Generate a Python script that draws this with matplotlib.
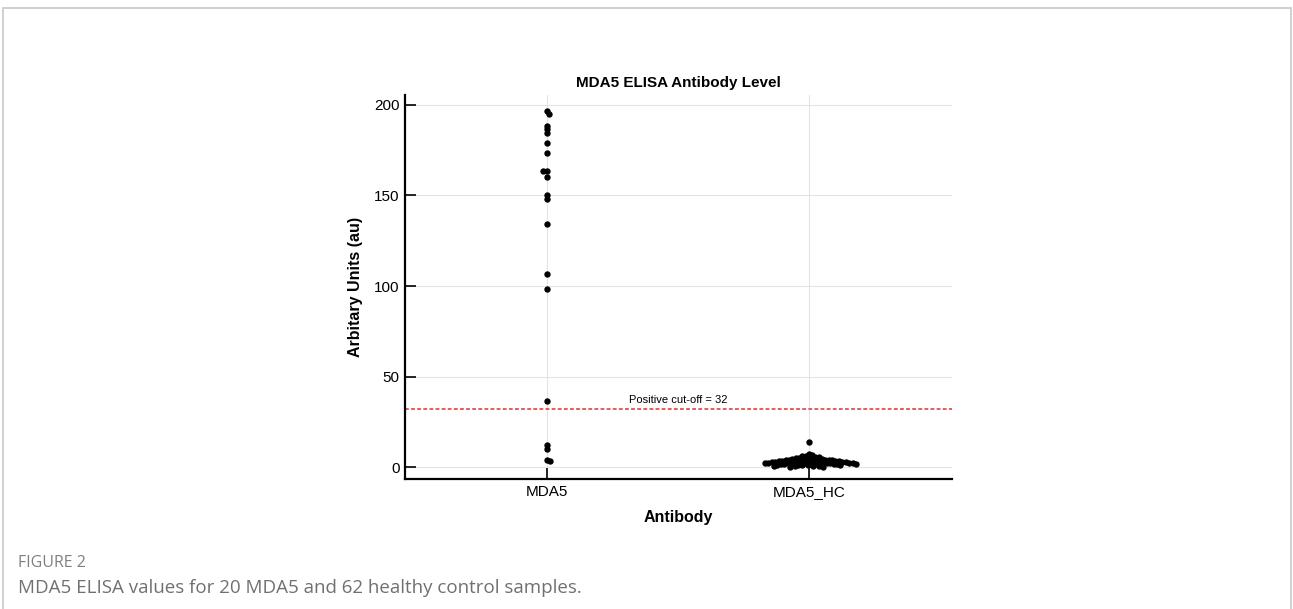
import matplotlib
matplotlib.use("Agg")
from matplotlib import pyplot as plt
from matplotlib.patches import Rectangle
import numpy as np

# values (arbitrary units)
categories = ["MDA5", "MDA5_HC"]
mda5_values = [196.5, 195.0, 188.5, 186.5, 184.5, 179.0, 173.5, 163.5, 163.5,
               160.0, 150.0, 148.0, 134.0, 106.5, 98.5, 36.5, 12.0, 10.0, 3.5, 4.0]
hc_values = [14.0, 7.0, 6.5, 6.0, 6.0, 5.5, 5.5, 5.0, 5.0, 5.0, 4.5, 4.5, 4.5,
             4.0, 4.0, 4.0, 4.0, 3.8, 3.5, 3.5, 3.5, 3.5, 3.2, 3.0, 3.0, 3.0,
             3.0, 3.0, 2.8, 2.5, 2.5, 2.5, 2.5, 2.5, 2.2, 2.0, 2.0, 2.0, 2.0,
             2.0, 1.8, 1.5, 1.5, 1.5, 1.5, 1.2, 1.0, 1.0, 1.0, 1.0, 0.8, 0.5,
             0.5, 0.5, 0.3, 0.2, 3.3, 4.2, 2.7, 1.7, 3.7, 2.3]
cutoff = 32
yticks = [0, 50, 100, 150, 200]

XLIM = (-0.54, 1.546)
YLIM = (-6.6, 205.5)
AX_W_PX = 952 - 405
AX_H_PX = 479 - 95


def swarm_offsets(values, spacing_px):
    """Simple beeswarm: returns x offsets (data units) for each value."""
    ypx = np.asarray(values) * AX_H_PX / (YLIM[1] - YLIM[0])
    order = np.argsort(-ypx, kind="stable")
    placed = []  # (x_px, y_px)
    xs = np.zeros(len(values))
    side = 1
    for i in order:
        y = ypx[i]
        cands = [0.0]
        for px, py in placed:
            dy = abs(py - y)
            if dy < spacing_px:
                dx = np.sqrt(spacing_px ** 2 - dy ** 2)
                cands += [px + dx, px - dx]
        cands.sort(key=lambda c: (round(abs(c), 4), -side * c))
        for c in cands:
            ok = all((c - px) ** 2 + (y - py) ** 2 >= spacing_px ** 2 - 1e-6
                     for px, py in placed)
            if ok:
                break
        if c != 0:
            side = -side
        placed.append((c, y))
        xs[i] = c
    return xs * (XLIM[1] - XLIM[0]) / AX_W_PX


plt.rcParams["font.family"] = ["Liberation Sans", "DejaVu Sans"]

fig = plt.figure(figsize=(12.93, 6.09), dpi=100)
ax = fig.add_axes([405 / 1293, 1 - 479 / 609, AX_W_PX / 1293, AX_H_PX / 609])

for pos, vals in enumerate([mda5_values, hc_values]):
    xo = swarm_offsets(vals, 3.5)
    ax.scatter(pos + xo, vals, s=21, color="black", linewidths=0, zorder=3)

ax.set_xlim(*XLIM)
ax.set_ylim(*YLIM)
ax.set_xticks(range(len(categories)))
ax.set_xticklabels(categories)
ax.set_yticks(yticks)
ax.grid(True, color="#e4e4e4", linewidth=0.8)
ax.set_axisbelow(True)
for s in ["top", "right"]:
    ax.spines[s].set_visible(False)
for s in ["left", "bottom"]:
    ax.spines[s].set_linewidth(1.6)
ax.tick_params(direction="in", length=8, width=1.2, labelsize=11, pad=4)

ax.axhline(cutoff, color="#e03030", linestyle="--", linewidth=1.1, dashes=(2.5, 1.5), zorder=2)
ax.text(0.5, cutoff + 2, "Positive cut-off = %d" % cutoff, ha="center", va="bottom",
        fontsize=8, transform=ax.get_yaxis_transform())

ax.set_title("MDA5 ELISA Antibody Level", fontsize=11, fontweight="bold", pad=6)
ax.set_xlabel("Antibody", fontsize=11.5, fontweight="bold", labelpad=8)
ax.set_ylabel("Arbitary Units (au)", fontsize=11.5, fontweight="bold", labelpad=8)

# page frame and caption
fig.patches.append(Rectangle((3 / 1293, -0.1), 1288 / 1293, 1.1 - 8 / 609,
                             transform=fig.transFigure, fill=False,
                             edgecolor="#c8c8c8", linewidth=1.2))
fig.text(18 / 1293, 1 - 563 / 609, "FIGURE 2", fontsize=11.5, color="#808080",
         family=["Open Sans", "DejaVu Sans"], va="center")
fig.text(18 / 1293, 1 - 588 / 609, "MDA5 ELISA values for 20 MDA5 and 62 healthy control samples.",
         fontsize=13.5, color="#707070", family=["Open Sans", "DejaVu Sans"], va="center")

fig.savefig("out.png", dpi=100)
